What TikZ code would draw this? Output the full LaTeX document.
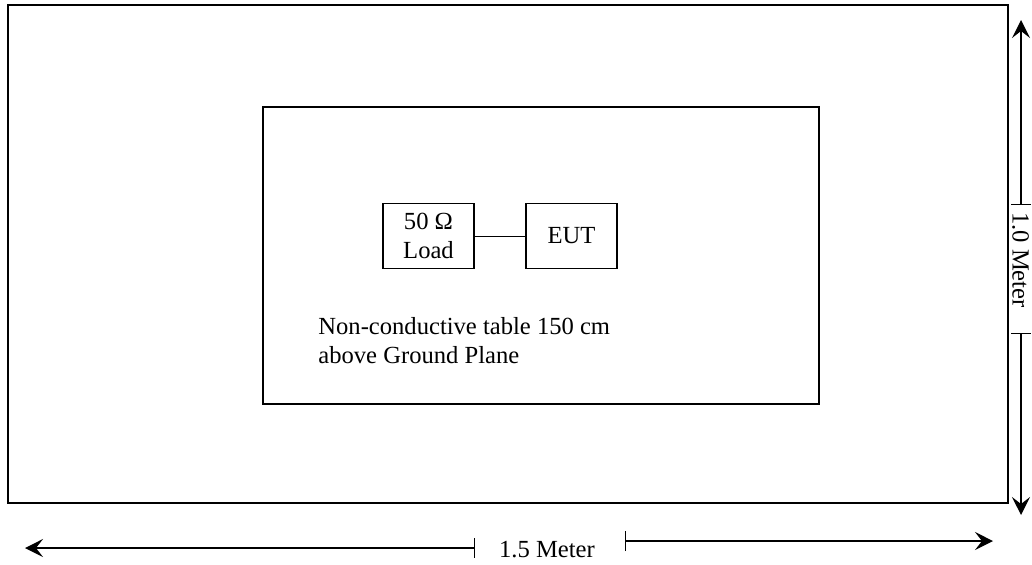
\documentclass[tikz,border=0pt]{standalone}
\usepackage{fontspec}
\setmainfont{Liberation Serif}
\usetikzlibrary{arrows.meta}

\begin{document}
\begin{tikzpicture}[x=0.5pt,y=-0.5pt,
    every node/.style={font=\fontsize{12.3}{14.5}\selectfont},
    unitbox/.style={draw,line width=0.8pt,minimum width=45.5pt,minimum height=32.5pt,
      inner sep=0pt,align=center},
    dimline/.style={line width=0.7pt},
    dimtip/.tip={Stealth[length=9pt,width=9pt,inset=3.5pt]},
    dimbar/.tip={Bar[width=10pt]}]
  \useasboundingbox (0,0) rectangle (1032,564);
  % ground plane and table
  \draw[line width=1.4pt] (8,5) rectangle (1008,503);
  \draw[line width=1pt] (263,107) rectangle (819,404);
  \node[unitbox] (load) at (428.5,236) {50 Ω\\Load};
  \node[unitbox] (eut) at (571.5,236) {EUT};
  \draw[line width=0.5pt] (load) -- (eut);
  \node[anchor=north west,align=left,inner sep=0pt] (tabletext) at (318,317)
    {Non-conductive table 150 cm\\above Ground Plane};
  % dimensions
  \coordinate (wl) at (25,548);  \coordinate (wlb) at (475,548);
  \coordinate (wrb) at (625,541); \coordinate (wr) at (993,541);
  \coordinate (ht) at (1021,20);  \coordinate (htb) at (1021,205);
  \coordinate (hbb) at (1021,333); \coordinate (hb) at (1021,515);
  \draw[dimline,dimtip-dimbar] (wl) -- (wlb);
  \draw[dimline,dimbar-dimtip] (wrb) -- (wr);
  \draw[dimline,dimtip-dimbar] (ht) -- (htb);
  \draw[dimline,dimbar-dimtip] (hbb) -- (hb);
  \node[anchor=base,inner sep=0pt] (wlabel) at (547,557) {1.5 Meter};
  \node[anchor=base,inner sep=0pt,rotate=-90] (hlabel) at (1012.5,260) {1.0 Meter};
\end{tikzpicture}
\end{document}
